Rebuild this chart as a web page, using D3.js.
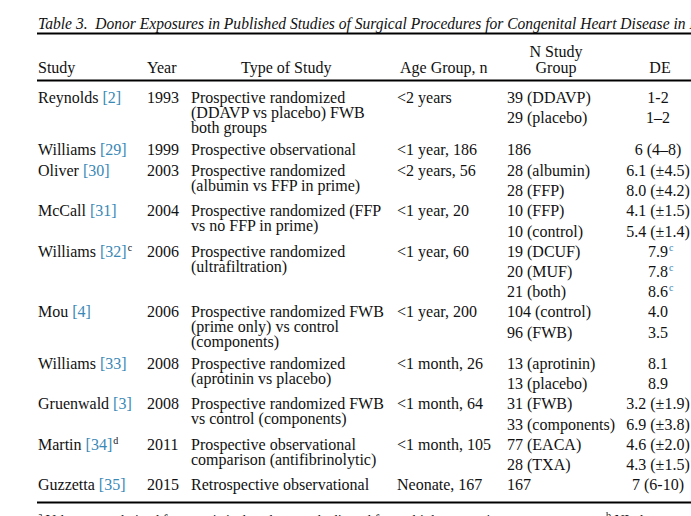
<!DOCTYPE html>
<html><head><meta charset="utf-8">
<script src="https://cdn.jsdelivr.net/npm/d3@7"></script>
<style>html,body{margin:0;padding:0;background:#fff;overflow:hidden}svg{display:block}</style>
</head><body>
<svg id="c" width="691" height="516"></svg>
<script>
const title = "Table 3.\u00A0\u00A0Donor Exposures in Published Studies of Surgical Procedures for Congenital Heart Disease";
const titleTail = " in Infants";
const headers = ["Study","Year","Type of Study","Age Group, n","N Study|Group","DE"];
const studies = ["Reynolds","Williams","Oliver","McCall","Williams","Mou","Williams","Gruenwald","Martin","Guzzetta"];
const refs = ["[2]","[29]","[30]","[31]","[32]","[4]","[33]","[3]","[34]","[35]"];
const refSup = ["","","","","c","","","","d",""];
const years = ["1993","1999","2003","2004","2006","2006","2008","2008","2011","2015"];
const types = [
  ["Prospective randomized","(DDAVP vs placebo) FWB","both groups"],
  ["Prospective observational"],
  ["Prospective randomized","(albumin vs FFP in prime)"],
  ["Prospective randomized (FFP","vs no FFP in prime)"],
  ["Prospective randomized","(ultrafiltration)"],
  ["Prospective randomized FWB","(prime only) vs control","(components)"],
  ["Prospective randomized","(aprotinin vs placebo)"],
  ["Prospective randomized FWB","vs control (components)"],
  ["Prospective observational","comparison (antifibrinolytic)"],
  ["Retrospective observational"]
];
const ages = ["<2 years","<1 year, 186","<2 years, 56","<1 year, 20","<1 year, 60","<1 year, 200","<1 month, 26","<1 month, 64","<1 month, 105","Neonate, 167"];
const groups = [
  ["39 (DDAVP)","29 (placebo)"],["186"],["28 (albumin)","28 (FFP)"],["10 (FFP)","10 (control)"],
  ["19 (DCUF)","20 (MUF)","21 (both)"],["104 (control)","96 (FWB)"],["13 (aprotinin)","13 (placebo)"],
  ["31 (FWB)","33 (components)"],["77 (EACA)","28 (TXA)"],["167"]
];
const de = [
  ["1-2","1\u20132"],["6 (4\u20138)"],["6.1 (\u00B14.5)","8.0 (\u00B14.2)"],["4.1 (\u00B11.5)","5.4 (\u00B11.4)"],
  ["7.9","7.8","8.6"],["4.0","3.5"],["8.1","8.9"],["3.2 (\u00B11.9)","6.9 (\u00B13.8)"],
  ["4.6 (\u00B12.0)","4.3 (\u00B11.5)"],["7 (6-10)"]
];
const deSup = [["",""],[""],["",""],["",""],["c","c","c"],["",""],["",""],["",""],["c","c"],[""]];
const footA = "Values were derived from statistical analyses and adjusted for multiple comparisons.";
const footB = "NI, data not";

const svg = d3.select("#c");
const FONT = "'Liberation Serif','Times New Roman',serif";
const FS = 16, INK = "#111", LINK = "#3a88b5";

const colKeys = ["study","year","type","age","group","de"];
const x = d3.scaleOrdinal().domain(colKeys).range([38,147,191,397,507,658]);
const headerX = d3.scaleOrdinal().domain(colKeys).range([38,147,241,400,556,660]);
const headerAnchor = {study:"start",year:"start",type:"start",age:"start",group:"middle",de:"middle"};

const rowH = 20.2, lineH = 15;
const blockH = studies.map((s,i)=>Math.max(groups[i].length*rowH, types[i].length*lineH+6.5));
const starts = d3.cumsum([0,...blockH]).slice(0,studies.length);
const y = d3.scaleLinear().domain([0,1]).range([98,99]);
const base = 5;

// title
const tg = svg.append("g");
const tt = tg.append("text").attr("x",0).attr("y",0)
  .attr("font-family",FONT).attr("font-style","italic").attr("font-size",17.5).attr("fill",INK);
const t1 = tt.append("tspan").text(title);
const w = t1.node().getComputedTextLength();
tt.append("tspan").text(titleTail);
const sx = 632/w;
tg.attr("transform",`translate(38,28.5) scale(${sx},1)`);

// rules
const rules = [{y:33.5,w:2.2},{y:80.5,w:2.2},{y:502.5,w:2.2}];
svg.selectAll("line.rule").data(rules).join("line").attr("class","rule")
  .attr("x1",37).attr("x2",691).attr("y1",d=>d.y).attr("y2",d=>d.y)
  .attr("stroke","#000").attr("stroke-width",d=>d.w);

// headers
const hg = svg.append("g").attr("font-family",FONT).attr("font-size",FS).attr("fill",INK);
headers.forEach((h,i)=>{
  const k = colKeys[i];
  const parts = h.split("|");
  if(parts.length===1){
    hg.append("text").attr("x",headerX(k)).attr("text-anchor",headerAnchor[k]).attr("y",68+base).text(parts[0]);
  } else {
    parts.forEach((p,j)=>hg.append("text").attr("x",headerX(k)).attr("text-anchor",headerAnchor[k]).attr("y",52+j*16+base).text(p));
  }
});

// body
const bg = svg.append("g").attr("font-family",FONT).attr("font-size",FS).attr("fill",INK);
studies.forEach((s,i)=>{
  const y0 = y(starts[i]);
  const st = bg.append("text").attr("x",x("study")).attr("y",y0+base);
  st.append("tspan").text(s+" ");
  st.append("tspan").attr("fill",LINK).text(refs[i]);
  if(refSup[i]) st.append("tspan").attr("font-size",10).attr("dy",-6).attr("dx",1).text(refSup[i]);
  bg.append("text").attr("x",x("year")).attr("y",y0+base).text(years[i]);
  types[i].forEach((ln,j)=>{
    bg.append("text").attr("x",x("type")).attr("y",y0+base+j*lineH).text(ln);
  });
  bg.append("text").attr("x",x("age")).attr("y",y0+base).text(ages[i]);
  groups[i].forEach((g,j)=>{
    bg.append("text").attr("x",x("group")).attr("y",y0+base+j*rowH).text(g);
    const dt = bg.append("text").attr("x",x("de")).attr("y",y0+base+j*rowH).attr("text-anchor","middle").text(de[i][j]);
    if(deSup[i][j]){
      const ww = dt.node().getComputedTextLength();
      bg.append("text").attr("x",x("de")+ww/2+1).attr("y",y0+base+j*rowH-6)
        .attr("font-size",10).attr("fill",LINK).text(deSup[i][j]);
    }
  });
});

// footnote (mostly clipped at the bottom edge)
const fg = svg.append("g").attr("font-family",FONT).attr("font-size",14).attr("fill",INK);
const f1 = fg.append("text").attr("x",38).attr("y",525);
f1.append("tspan").attr("font-size",10).attr("dy",-6).text("a");
f1.append("tspan").attr("dy",6).text(" "+footA);
const f2 = fg.append("text").attr("x",606).attr("y",525);
f2.append("tspan").attr("font-size",10).attr("dy",-6).text("b");
f2.append("tspan").attr("dy",6).text(" "+footB);
</script>
</body></html>
